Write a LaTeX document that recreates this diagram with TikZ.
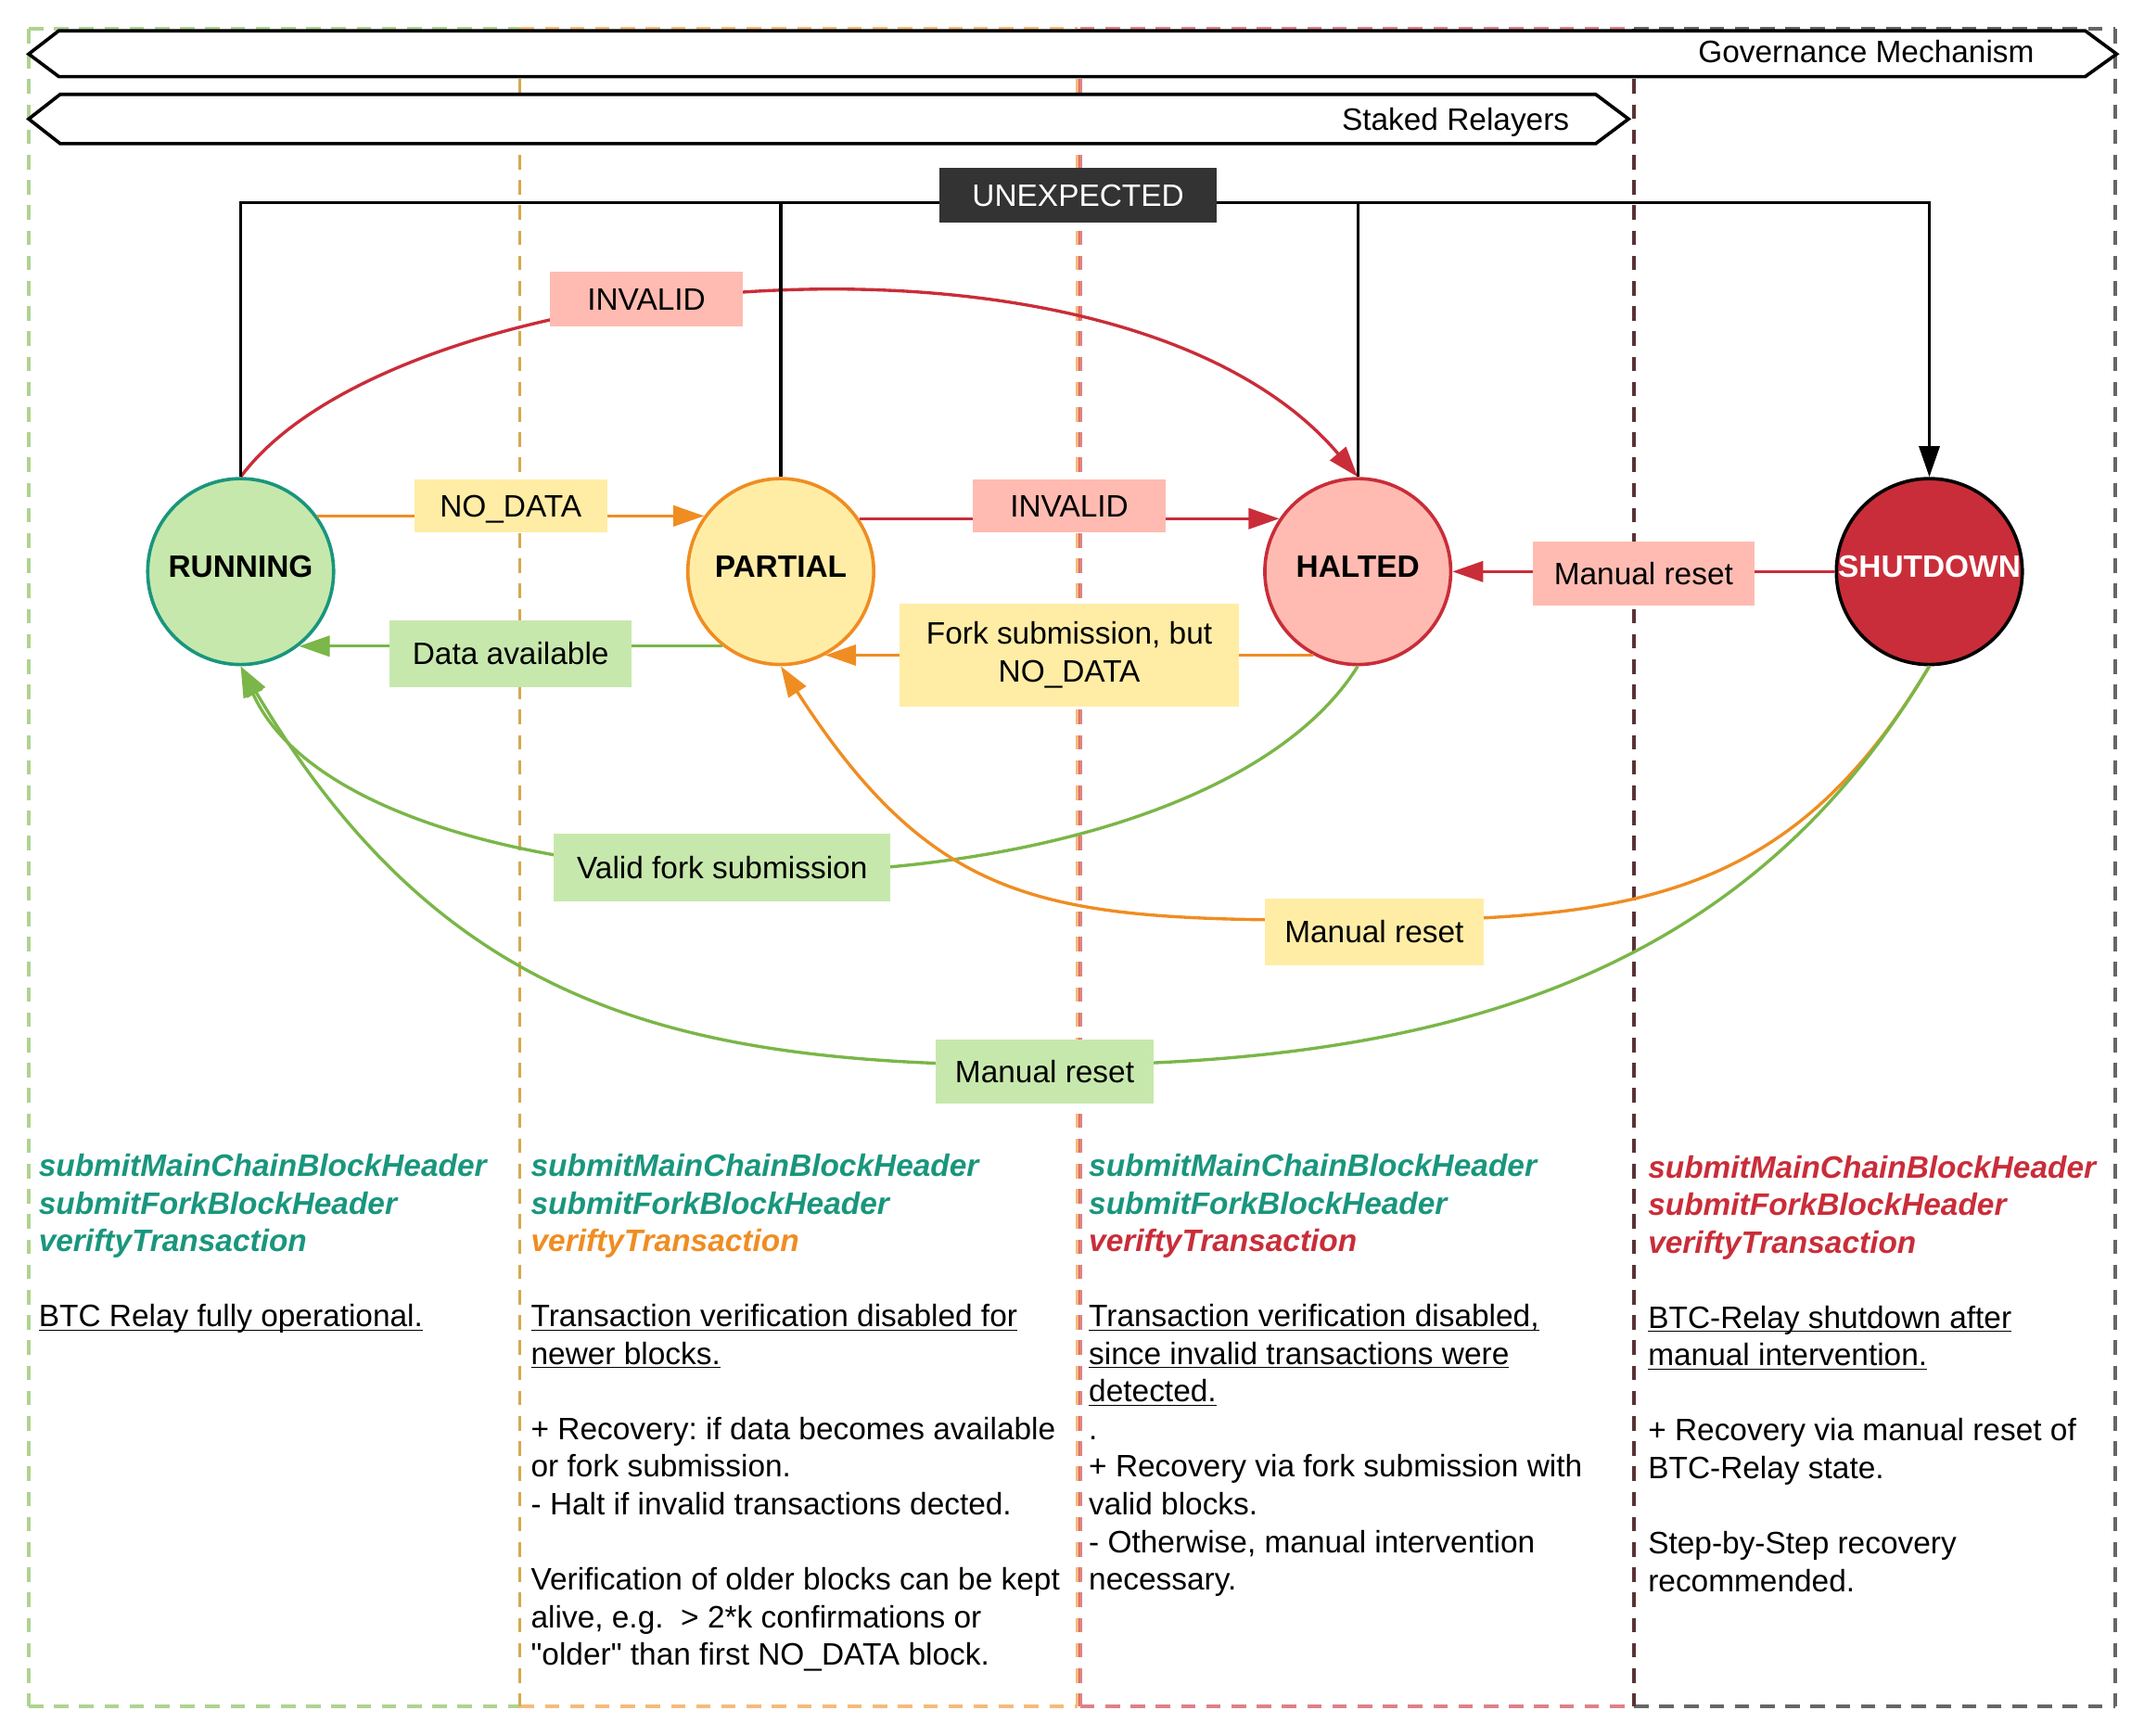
\documentclass[tikz,border=0pt]{standalone}
\usepackage{fontspec}
\setmainfont{Liberation Sans}
\usepackage{xcolor}
\usetikzlibrary{arrows.meta}

\definecolor{runfill}{HTML}{C7E8AC}
\definecolor{runline}{HTML}{19967D}
\definecolor{partfill}{HTML}{FFEDA6}
\definecolor{partline}{HTML}{EF8D22}
\definecolor{haltfill}{HTML}{FFBBB1}
\definecolor{haltline}{HTML}{C92D39}
\definecolor{okgreen}{HTML}{7AB648}
\definecolor{darkbox}{HTML}{333333}

\newcommand{\ulin}[1]{\underline{\smash{#1}}}
\newcommand{\method}[2]{\textcolor{#1}{\bfseries\itshape #2}}
\frenchspacing

\begin{document}
\begin{tikzpicture}[x=0.02cm, y=-0.02cm,
    every node/.style={font=\fontsize{12.9}{15.65}\selectfont},
    relaystate/.style={circle, draw, line width=1.4pt, minimum size=2.72cm, inner sep=0pt,
      text height=9.3pt, text depth=4.7pt,
      font=\fontsize{12.9}{15.65}\selectfont\bfseries},
    lbl/.style={inner sep=0pt, align=center},
    oneline/.style={text height=9.3pt, text depth=0pt},
    flow/.style={line width=1.3pt, -{Triangle[length=0.45cm, width=0.3cm]}},
    wire/.style={line width=1.2pt},
    lane/.style={line width=1.4pt, draw opacity=0.6, dash pattern=on 6pt off 4.5pt},
    banner/.style={line width=1.4pt, fill=white},
    lanetext/.style={anchor=north west, inner sep=0pt, align=left}]
  \useasboundingbox (0,0) rectangle (1568,1269);

  % Lanes (every edge starts its own dash pattern)
  \draw[lane, draw=okgreen] (21,21) -- (21,1248) (380,21) -- (380,1248)
     (21,21) -- (380,21) (21,1248) -- (380,1248);
  \draw[lane, draw=partline] (380,21) -- (380,1248) (788,21) -- (788,1248)
     (380,21) -- (788,21) (380,1248) -- (788,1248);
  \draw[lane, draw=haltline] (790,21) -- (790,1248) (1195,21) -- (1195,1248)
     (790,21) -- (1195,21) (790,1248) -- (1195,1248);
  \draw[lane, draw=black] (1195,21) -- (1195,1248) (1547,21) -- (1547,1248)
     (1195,21) -- (1547,21) (1195,1248) -- (1547,1248);

  % Banners
  \draw[banner] (43,22.5) -- (1525,22.5) -- (1548,39.5) -- (1525,56)
     -- (43,56) -- (21,39.5) -- cycle;
  \node[anchor=base east, inner sep=0pt] (govtext) at (1488,46) {Governance Mechanism};
  \draw[banner] (44,69) -- (1167,69) -- (1191,87) -- (1167,105)
     -- (44,105) -- (21,87) -- cycle;
  \node[anchor=base east, inner sep=0pt] (staketext) at (1148,95.5) {Staked Relayers};

  % States
  \node[relaystate, draw=runline, fill=runfill] (run) at (176,418) {RUNNING};
  \node[relaystate, draw=partline, fill=partfill] (part) at (571,418) {PARTIAL};
  \node[relaystate, draw=haltline, fill=haltfill] (halt) at (993,418) {HALTED};
  \node[relaystate, draw=black, fill=haltline, text=white] (shut) at (1411,418) {SHUTDOWN};

  % Straight transitions
  \draw[flow, draw=partline] (run.36) -- node[lbl, oneline, fill=partfill,
     minimum width=2.82cm, minimum height=0.78cm, yshift=0.15cm] (nodatalbl) {NO\_DATA} (part.144);
  \draw[flow, draw=haltline] (part.34) -- node[lbl, oneline, fill=haltfill,
     minimum width=2.82cm, minimum height=0.78cm, yshift=0.19cm] (invalidlbl) {INVALID} (halt.146);
  \draw[flow, draw=okgreen] (part.232.5) -- node[lbl, oneline, fill=runfill,
     minimum width=3.54cm, minimum height=0.98cm, yshift=-0.11cm] (availlbl) {Data available} (run.-52.5);
  \draw[flow, draw=partline] (halt.242) -- node[lbl, fill=partfill,
     minimum width=4.96cm, minimum height=1.5cm] (forklbl) {Fork submission, but\\NO\_DATA} (part.-62);
  \draw[flow, draw=haltline] (shut.west) -- node[lbl, oneline, fill=haltfill,
     minimum width=3.24cm, minimum height=0.94cm, yshift=-0.03cm] (resetredlbl) {Manual reset} (halt.east);

  % Curved transitions
  \draw[flow, draw=haltline] (run.north) .. controls (290,195) and (820,145) .. (halt.north)
     node[lbl, oneline, fill=haltfill, pos=0.41, yshift=0.07cm, minimum width=2.82cm, minimum height=0.8cm] (invalidtoplbl) {INVALID};
  \draw[flow, draw=okgreen] (halt.south) .. controls (868,687) and (264,683) .. (run.south)
     node[lbl, oneline, fill=runfill, pos=0.54, minimum width=4.92cm, minimum height=1cm] (validlbl) {Valid fork submission};
  \draw[flow, draw=partline] (shut.south) .. controls (1314,650) and (1205,673) .. (1005,673)
     node[lbl, oneline, fill=partfill, yshift=-0.17cm, minimum width=3.2cm, minimum height=0.98cm] (resetyellbl) {Manual reset}
     .. controls (775,673) and (690,672) .. (part.south);
  \draw[flow, draw=okgreen] (shut.south) .. controls (1279,711) and (1064,779) .. (764,779)
     node[lbl, oneline, fill=runfill, yshift=-0.09cm, minimum width=3.2cm, minimum height=0.94cm] (resetgrnlbl) {Manual reset}
     .. controls (500,779) and (326,740) .. (run.south);

  % Unexpected failures
  \coordinate (bus) at (789,148);
  \draw[wire, -{Triangle[length=0.45cm, width=0.3cm]}] (run.north) |- (bus) -| (shut.north);
  \draw[wire] (part.north) -- (part.north |- bus);
  \draw[wire] (halt.north) -- (halt.north |- bus);
  \node[lbl, oneline, fill=darkbox, text=white, minimum width=4.06cm,
     minimum height=0.8cm] (unexp) at (788.5,143) {UNEXPECTED};

  % Lane descriptions
  \node[lanetext] (runtext) at (28,840.75) {\strut\method{runline}{submitMainChainBlockHeader}\\
    \method{runline}{submitForkBlockHeader}\\
    \method{runline}{veriftyTransaction}\\[15.65pt]
    \ulin{BTC Relay fully operational.}};
  \node[lanetext] (parttext) at (388,840.75) {\strut\method{runline}{submitMainChainBlockHeader}\\
    \method{runline}{submitForkBlockHeader}\\
    \method{partline}{veriftyTransaction}\\[15.65pt]
    \ulin{Transaction verification disabled for}\\
    \ulin{newer blocks.}\\[15.65pt]
    + Recovery: if data becomes available\\
    or fork submission.\\
    - Halt if invalid transactions dected.\\[15.65pt]
    Verification of older blocks can be kept\\
    alive, e.g.\ \ {>} 2*k confirmations or\\
    \textquotedbl older\textquotedbl{} than first NO\_DATA block.};
  \node[lanetext] (halttext) at (796,840.75) {\strut\method{runline}{submitMainChainBlockHeader}\\
    \method{runline}{submitForkBlockHeader}\\
    \method{haltline}{veriftyTransaction}\\[15.65pt]
    \ulin{Transaction verification disabled,}\\
    \ulin{since invalid transactions were}\\
    \ulin{detected.}\\
    .\\
    + Recovery via fork submission with\\
    valid blocks.\\
    - Otherwise, manual intervention\\
    necessary.};
  \node[lanetext] (shuttext) at (1205,841.75) {\strut\method{haltline}{submitMainChainBlockHeader}\\
    \method{haltline}{submitForkBlockHeader}\\
    \method{haltline}{veriftyTransaction}\\[15.65pt]
    \ulin{BTC-Relay shutdown after}\\
    \ulin{manual intervention.}\\[15.65pt]
    + Recovery via manual reset of\\
    BTC-Relay state.\\[15.65pt]
    Step-by-Step recovery\\
    recommended.};
\end{tikzpicture}
\end{document}
